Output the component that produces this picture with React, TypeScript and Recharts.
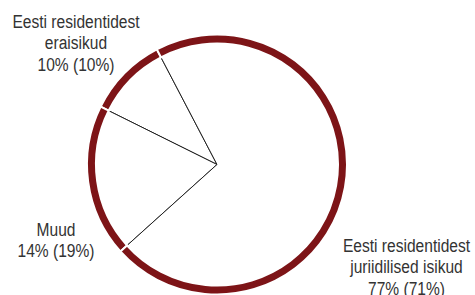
import { PieChart, Pie, Cell } from "recharts";

// slice sizes follow the bracketed figures; the first figure is shown in front
const NAME_LINES = [
  ["Eesti residentidest", "eraisikud"],
  ["Muud"],
  ["Eesti residentidest", "juriidilised isikud"],
];
const SHARE_NOW = [10, 14, 77];
const SHARE_PREV = [10, 19, 71];

const RED = "#7d1417";
const CX = 217;
const CY = 164.5;
const FONT = "'Liberation Sans', Arial, sans-serif";
const LINE_H = 21.5;
// label anchor (centre of text block, first baseline) relative to pie centre
const LABEL_OFFSETS = [
  [-141, -136.5],
  [-161, 71.5],
  [189.5, 87.5],
];

const data = SHARE_PREV.map((v, i) => ({ name: NAME_LINES[i].join(" "), value: v }));

const renderLabel = (props: any) => {
  const i = props.index;
  const [dx, dy] = LABEL_OFFSETS[i];
  const lines = [...NAME_LINES[i], `${SHARE_NOW[i]}% (${SHARE_PREV[i]}%)`];
  // narrow the text to get the condensed look of the original
  return (
    <g key={`lbl-${i}`} transform={`translate(${CX + dx},${CY + dy}) scale(0.82,1)`}>
      <text x={0} y={0} textAnchor="middle" fill="#333" fontSize={19} fontFamily={FONT}>
        {lines.map((l, j) => (
          <tspan key={j} x={0} dy={j === 0 ? 0 : LINE_H}>
            {l}
          </tspan>
        ))}
      </text>
    </g>
  );
};

export default function App() {
  return (
    <div style={{ position: "absolute", left: 0, top: 0, width: 475, height: 295, background: "#fff" }}>
      <PieChart width={475} height={295} margin={{ top: 0, right: 0, bottom: 0, left: 0 }}>
        <Pie
          data={data}
          dataKey="value"
          cx={CX}
          cy={CY}
          innerRadius={0}
          outerRadius={125}
          startAngle={117.6}
          endAngle={477.6}
          fill="#fff"
          stroke="#222"
          strokeWidth={1}
          label={renderLabel}
          labelLine={false}
          isAnimationActive={false}
        >
          {data.map((d) => (
            <Cell key={d.name} fill="#fff" stroke="#222" />
          ))}
        </Pie>
        <Pie
          data={data}
          dataKey="value"
          cx={CX}
          cy={CY}
          innerRadius={121}
          outerRadius={130}
          startAngle={117.6}
          endAngle={477.6}
          fill={RED}
          stroke="#fff"
          strokeWidth={2}
          isAnimationActive={false}
        >
          {data.map((d) => (
            <Cell key={d.name} fill={RED} stroke="#fff" />
          ))}
        </Pie>
      </PieChart>
    </div>
  );
}
